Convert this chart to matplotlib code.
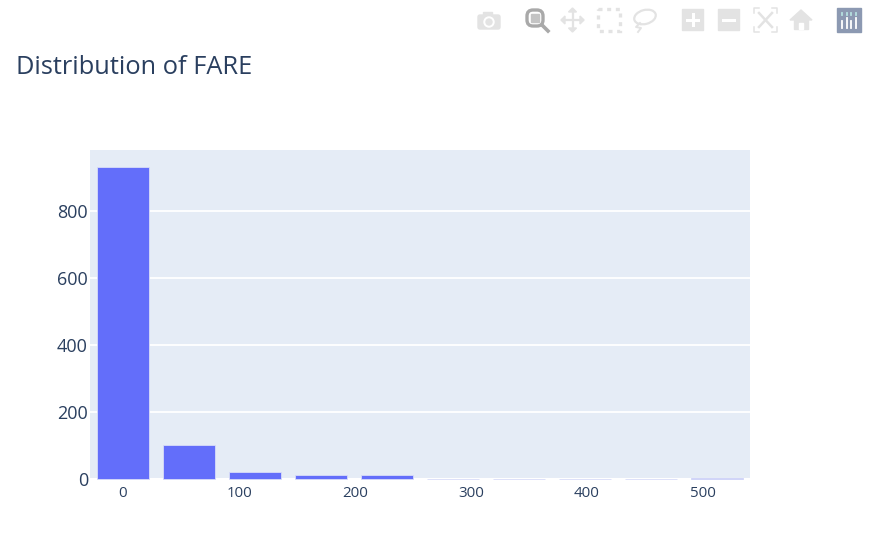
import matplotlib
matplotlib.use('Agg')
import matplotlib.pyplot as plt
from matplotlib.patches import Rectangle, Circle, Polygon, Ellipse, FancyBboxPatch

W, H = 889, 549

bin_centers = [0, 56.9, 113.8, 170.7, 227.6, 284.5, 341.4, 398.3, 455.2, 512.1]
counts = [931, 100, 22, 11, 13, 1, 1, 1, 1, 3]
x_ticks = [0, 100, 200, 300, 400, 500]
y_ticks = [0, 200, 400, 600, 800]
title = 'Distribution of FARE'

plt.rcParams['font.family'] = ['Open Sans', 'DejaVu Sans']
ink = '#2a3f5f'

fig = plt.figure(figsize=(W / 100, H / 100), dpi=100, facecolor='white')

# plot area, pixels: x 90-750, y 150-479
ax = fig.add_axes([90 / W, 1 - 479 / H, 660 / W, 329 / H], facecolor='#e5ecf6')
ax.bar(bin_centers, counts, width=45, color='#636efa',
       edgecolor='#d8dcf8', linewidth=0.6, zorder=3, clip_on=False)
ax.set_xlim(-28.45, 540.5)
ax.set_ylim(0, 982)
ax.set_xticks(x_ticks)
ax.set_yticks(y_ticks)
ax.tick_params(axis='x', length=0, pad=5, labelsize=10.8, labelcolor=ink)
ax.tick_params(axis='y', length=0, pad=1.5, labelsize=13, labelcolor=ink)
ax.grid(axis='y', color='white', linewidth=1.3, zorder=1)
ax.axhline(0, color='white', linewidth=1.5, zorder=2)
for s in ax.spines.values():
    s.set_visible(False)

fig.text(16 / W, 1 - 67 / H, title, fontsize=18.3, color=ink, va='center', ha='left')

# modebar icons, drawn in pixel coordinates
ov = fig.add_axes([0, 0, 1, 1], facecolor='none')
ov.set_xlim(0, W)
ov.set_ylim(H, 0)
ov.axis('off')
light = '#e3e3e3'
dark = '#a9a9a9'

# camera
ov.add_patch(FancyBboxPatch((478, 15), 22, 14, boxstyle='round,pad=0,rounding_size=2', color=light))
ov.add_patch(Rectangle((483, 12), 9, 4, color=light))
ov.add_patch(Circle((489, 22), 5, color='white'))
ov.add_patch(Circle((489, 22), 3, color=light))
# zoom
ov.add_patch(FancyBboxPatch((527, 10), 16, 16, boxstyle='round,pad=0,rounding_size=6',
                            fill=False, ec=dark, lw=2.4))
ov.add_patch(Rectangle((531, 14), 8, 8, color='#c4c4c4'))
ov.plot([542, 548], [25, 31], color=dark, lw=2.6)
# pan
ov.plot([562, 583], [20, 20], color=light, lw=1.6)
ov.plot([572.5, 572.5], [11, 29], color=light, lw=1.6)
for pts in ([(561, 20), (565, 16), (565, 24)], [(584, 20), (580, 16), (580, 24)],
            [(572.5, 8), (568.5, 12), (576.5, 12)], [(572.5, 32), (568.5, 28), (576.5, 28)]):
    ov.add_patch(Polygon(pts, color=light))
# box select
ov.add_patch(Rectangle((598, 9), 22, 22, fill=False, ec=light, lw=2.4, ls=(0, (1.2, 1.4))))
# lasso
ov.add_patch(Ellipse((645, 17), 22, 14, angle=-15, fill=False, ec=light, lw=1.6))
ov.plot([640, 636, 641, 638], [23, 27, 28, 32], color=light, lw=1.4)
# zoom in / out
ov.add_patch(Rectangle((682, 9), 21, 21, color=light))
ov.plot([687, 698], [19.5, 19.5], color='white', lw=2.2)
ov.plot([692.5, 692.5], [14, 25], color='white', lw=2.2)
ov.add_patch(Rectangle((718, 9), 21, 21, color=light))
ov.plot([723, 734], [19.5, 19.5], color='white', lw=2.2)
# autoscale
for x0, y0, dx, dy in ((754, 8, 1, 1), (777, 8, -1, 1), (754, 32, 1, -1), (777, 32, -1, -1)):
    ov.plot([x0 + 5 * dx, x0, x0], [y0, y0, y0 + 5 * dy], color=light, lw=1.1)
ov.plot([759, 772], [13, 27], color=light, lw=1.8)
ov.plot([772, 759], [13, 27], color=light, lw=1.8)
# home
ov.add_patch(Polygon([(790, 20), (801, 10), (812, 20)], color=light))
ov.add_patch(Rectangle((794, 20), 14, 9, color=light))
ov.add_patch(Rectangle((799, 23), 4, 6, color='white'))
# plotly logo
ov.add_patch(Rectangle((837, 8), 24, 24, color='#8c99b2'))
for x, top in zip((842, 846.5, 851, 855.5), (21, 18, 21, 18)):
    ov.plot([x, x], [top, 28], color='white', lw=1.3)
    ov.plot([x, x], [12.5, 14.5], color='#b5e0e0', lw=1.3)

fig.savefig('out.png', dpi=100)
